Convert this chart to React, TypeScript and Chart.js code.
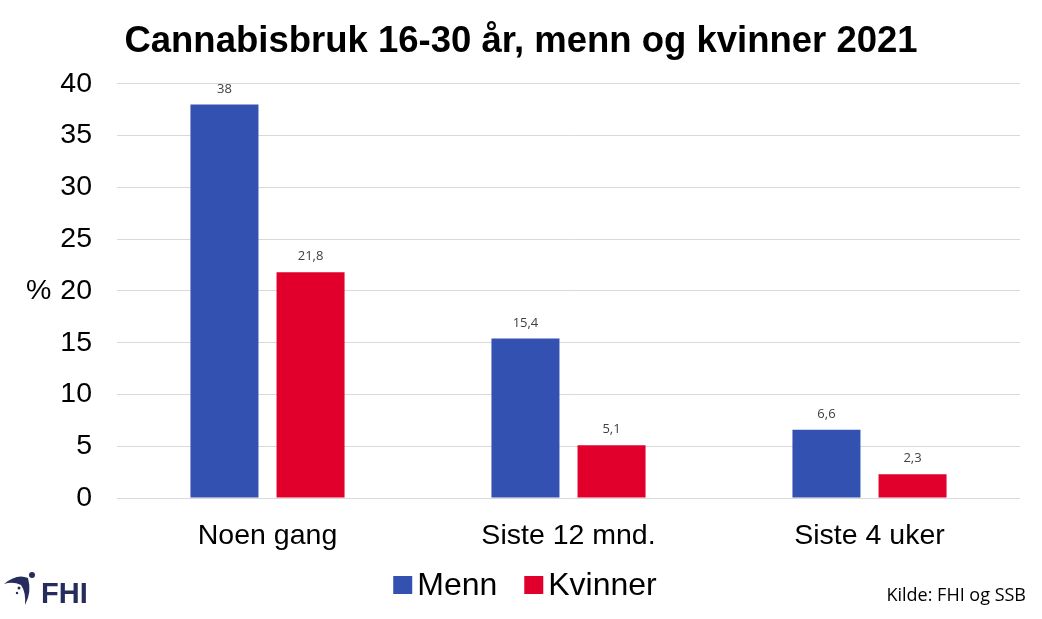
import React, { useEffect, useRef } from "react";
import { Chart, registerables } from "chart.js";

Chart.register(...registerables);

const TITLE = "Cannabisbruk 16-30 år, menn og kvinner 2021";
const CATEGORIES = ["Noen gang", "Siste 12 mnd.", "Siste 4 uker"];
const MENN = [38, 15.4, 6.6];
const KVINNER = [21.8, 5.1, 2.3];
const SERIES_NAMES = ["Menn", "Kvinner"];
const SERIES_COLORS = ["#3351B1", "#E1002B"];
const Y_MIN = 0;
const Y_MAX = 40;
const Y_STEP = 5;
const Y_UNIT = "%";
const SOURCE = "Kilde: FHI og SSB";
const LOGO_TEXT = "FHI";

const FONT = "'Liberation Sans', Arial, sans-serif";

const decorPlugin = {
  id: "decor",
  afterDatasetsDraw(chart: any) {
    const ctx = chart.ctx;
    ctx.save();
    ctx.font = `13px 'Open Sans', sans-serif`;
    ctx.fillStyle = "#404040";
    ctx.textAlign = "center";
    ctx.textBaseline = "alphabetic";
    chart.data.datasets.forEach((ds: any, i: number) => {
      const meta = chart.getDatasetMeta(i);
      meta.data.forEach((bar: any, j: number) => {
        const v = ds.data[j];
        ctx.fillText(String(v).replace(".", ","), bar.x, bar.y - 12);
      });
    });
    ctx.restore();
  },
  afterDraw(chart: any) {
    const ctx = chart.ctx;
    const yScale = chart.scales.y;
    ctx.save();
    ctx.font = `28.5px ${FONT}`;
    ctx.fillStyle = "#000";
    ctx.textAlign = "left";
    ctx.textBaseline = "middle";
    ctx.fillText(Y_UNIT, 26, yScale.getPixelForValue((Y_MIN + Y_MAX) / 2));

    // legend
    ctx.font = `32px ${FONT}`;
    const box = 19;
    const gapBoxText = 5;
    const gapItems = 27;
    const widths = chart.data.datasets.map((ds: any) => ctx.measureText(ds.label).width);
    let total = 0;
    widths.forEach((w: number, i: number) => {
      total += box + gapBoxText + w + (i > 0 ? gapItems : 0);
    });
    let x = chart.width / 2 + 4 - total / 2;
    const textBase = 595;
    chart.data.datasets.forEach((ds: any, i: number) => {
      ctx.fillStyle = ds.backgroundColor;
      ctx.fillRect(x, 576, box, box - 1);
      x += box + gapBoxText;
      ctx.fillStyle = "#000";
      ctx.textBaseline = "alphabetic";
      ctx.fillText(ds.label, x, textBase);
      x += widths[i] + gapItems;
    });

    // source
    ctx.font = `18px 'Open Sans', sans-serif`;
    ctx.fillStyle = "#000";
    ctx.textAlign = "right";
    ctx.fillText(SOURCE, 1026, 601);

    // logo
    const navy = "#262D5C";
    ctx.fillStyle = navy;
    ctx.beginPath();
    ctx.moveTo(4, 584);
    ctx.quadraticCurveTo(17, 573, 28, 578);
    ctx.quadraticCurveTo(32, 592, 25, 605);
    ctx.quadraticCurveTo(26, 592, 21, 585);
    ctx.quadraticCurveTo(13, 581, 4, 584);
    ctx.closePath();
    ctx.fill();
    ctx.beginPath();
    ctx.arc(32, 575, 3, 0, Math.PI * 2);
    ctx.fill();
    ctx.beginPath();
    ctx.arc(19, 588, 1.5, 0, Math.PI * 2);
    ctx.fill();
    ctx.beginPath();
    ctx.arc(17, 593, 1.2, 0, Math.PI * 2);
    ctx.fill();
    ctx.font = `bold 29px ${FONT}`;
    ctx.textAlign = "left";
    ctx.fillText(LOGO_TEXT, 41, 603);
    ctx.restore();
  },
};

export default function App() {
  const ref = useRef<HTMLCanvasElement | null>(null);
  useEffect(() => {
    if (!ref.current) return;
    const chart = new Chart(ref.current, {
      type: "bar",
      data: {
        labels: CATEGORIES,
        datasets: [
          { label: SERIES_NAMES[0], data: MENN, backgroundColor: SERIES_COLORS[0] },
          { label: SERIES_NAMES[1], data: KVINNER, backgroundColor: SERIES_COLORS[1] },
        ],
      },
      options: {
        animation: false,
        responsive: true,
        maintainAspectRatio: false,
        datasets: {
          bar: { categoryPercentage: 0.572, barPercentage: 0.79 },
        },
        layout: { padding: { left: 22, right: 22, top: 0, bottom: 61 } },
        plugins: {
          legend: { display: false },
          tooltip: { enabled: false },
          title: {
            display: true,
            text: TITLE,
            color: "#000",
            font: { family: FONT, size: 36.5, weight: "bold" },
            padding: { top: 20, bottom: 20 },
          },
        },
        scales: {
          x: {
            clip: false,
            grid: { display: false },
            border: { display: false },
            ticks: { color: "#000", font: { family: FONT, size: 28.5 }, padding: 13 },
            afterFit(s: any) {
              s.height = 60;
            },
          },
          y: {
            min: Y_MIN,
            max: Y_MAX,
            grid: { color: "#D9D9D9", lineWidth: 1, drawTicks: false },
            border: { display: false },
            ticks: {
              stepSize: Y_STEP,
              color: "#000",
              font: { family: FONT, size: 28.5 },
              padding: 25,
            },
            afterFit(s: any) {
              s.width = 95;
            },
          },
        },
      },
      plugins: [decorPlugin],
    });
    return () => chart.destroy();
  }, []);
  return (
    <div style={{ position: "fixed", left: 0, top: 0, width: 1042, height: 619, background: "#fff" }}>
      <canvas ref={ref} />
    </div>
  );
}
